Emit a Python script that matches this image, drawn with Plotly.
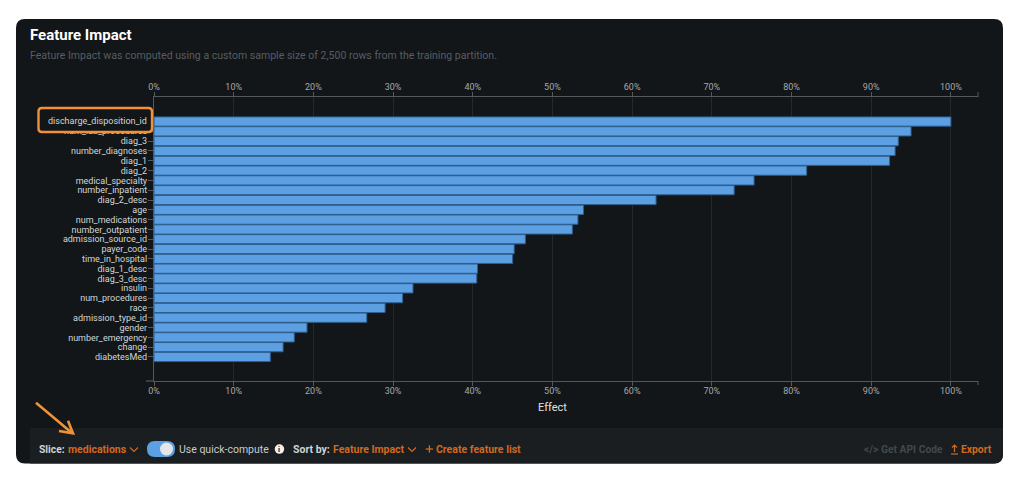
#!/usr/bin/env python3

import plotly.graph_objects as go

features = ['discharge_disposition_id', 'num_lab_procedures', 'diag_3', 'number_diagnoses', 'diag_1',
            'diag_2', 'medical_specialty', 'number_inpatient', 'diag_2_desc', 'age',
            'num_medications', 'number_outpatient', 'admission_source_id', 'payer_code', 'time_in_hospital',
            'diag_1_desc', 'diag_3_desc', 'insulin', 'num_procedures', 'race',
            'admission_type_id', 'gender', 'number_emergency', 'change', 'diabetesMed']
effect = [100, 95, 93.4, 93, 92.3,
          81.9, 75.3, 72.8, 63, 53.9,
          53.2, 52.5, 46.6, 45.2, 45,
          40.6, 40.5, 32.5, 31.2, 29,
          26.7, 19.2, 17.6, 16.2, 14.6]
x_ticks = [0, 10, 20, 30, 40, 50, 60, 70, 80, 90, 100]
x_labels = ['0%', '10%', '20%', '30%', '40%', '50%', '60%', '70%', '80%', '90%', '100%']

W = 1024
H = 483
ORANGE = '#d2691e'
ARROW = '#f0923a'
AXIS = '#55595c'
GRID = '#26292c'


# page pixels to paper
def px(x):
    return x / W


def py(y):
    return 1 - y / H


def to_path(points, close=False):
    s = ' '.join(('M' if i == 0 else 'L') + f'{px(a):.5f},{py(b):.5f}' for i, (a, b) in enumerate(points))
    return s + (' Z' if close else '')


def round_rect(x0, y0, x1, y1, r):
    return (f'M{px(x0 + r):.5f},{py(y0):.5f} L{px(x1 - r):.5f},{py(y0):.5f} '
            f'Q{px(x1):.5f},{py(y0):.5f} {px(x1):.5f},{py(y0 + r):.5f} '
            f'L{px(x1):.5f},{py(y1 - r):.5f} Q{px(x1):.5f},{py(y1):.5f} {px(x1 - r):.5f},{py(y1):.5f} '
            f'L{px(x0 + r):.5f},{py(y1):.5f} Q{px(x0):.5f},{py(y1):.5f} {px(x0):.5f},{py(y1 - r):.5f} '
            f'L{px(x0):.5f},{py(y0 + r):.5f} Q{px(x0):.5f},{py(y0):.5f} {px(x0 + r):.5f},{py(y0):.5f} Z')


shapes = []


def add_path(path, fill=None, line=None, width=1, layer='below'):
    shapes.append(dict(type='path', xref='paper', yref='paper', path=path, layer=layer,
                       fillcolor=fill if fill else 'rgba(0,0,0,0)',
                       line=dict(color=line if line else 'rgba(0,0,0,0)', width=width if line else 0)))


def chevron(x, y):
    add_path(to_path([(x - 4, y - 2), (x, y + 2), (x + 4, y - 2)]), line=ORANGE, width=1.2, layer='above')


annotations = []


def label(x, y, text, size=10.5, color='#c8cacb', anchor='left', bold=False, font='Roboto'):
    annotations.append(dict(xref='paper', yref='paper', x=px(x), y=py(y), text='<b>' + text + '</b>' if bold else text,
                            showarrow=False, xanchor=anchor, yanchor='middle',
                            font=dict(family=font, size=size, color=color), borderpad=0, borderwidth=0))


# panel and footer
add_path(round_rect(16, 19, 1003, 463.5, 9), fill='#121618')
add_path('M%.5f,%.5f L%.5f,%.5f L%.5f,%.5f Q%.5f,%.5f %.5f,%.5f L%.5f,%.5f Z' % (
    px(30), py(428), px(1003), py(428), px(1003), py(454.5), px(1003), py(463.5), px(994), py(463.5), px(30), py(463.5)),
    fill='#1a1e21')

# end caps of the axis lines and the tick left of the bottom corner
add_path(to_path([(978, 92), (978, 97)]), line=AXIS)
add_path(to_path([(978, 381), (978, 385)]), line=AXIS)
add_path(to_path([(146, 381), (154, 381)]), line=AXIS, width=1.2)

# highlight box around the top feature
add_path(round_rect(38.5, 108, 152, 132, 3.5), fill='#121618', line=ARROW, width=2.4, layer='above')
label(147, 121.5, features[0], size=9, color='#d4d6d7', anchor='right')

# orange arrow
add_path(to_path([(36, 402.7), (72, 433)]), line=ARROW, width=2.6, layer='above')
add_path(to_path([(59, 431), (73, 433.3), (68, 420.7)]), line=ARROW, width=2.6, layer='above')

# titles
label(30, 35, 'Feature Impact', size=15, color='#ffffff', bold=True)
label(30, 55, 'Feature Impact was computed using a custom sample size of 2,500 rows from the training partition.',
      size=10.55, color='#575d61')
label(552, 407, 'Effect', size=11, color='#e0e1e2', anchor='center')

# footer controls
label(39, 449, 'Slice:', size=10.3, color='#d0d2d3', bold=True)
label(68, 449, 'medications', size=10.5, color=ORANGE, bold=True)
chevron(134, 449.5)
add_path(round_rect(147, 441, 175, 457, 8), fill='#5c9fe3', layer='above')
shapes.append(dict(type='circle', xref='paper', yref='paper', x0=px(160), x1=px(173), y0=py(455.5), y1=py(442.5),
                   fillcolor='#e4e6e8', line=dict(width=0), layer='above'))
label(179, 449, 'Use quick-compute', size=10.5, color='#c8cacb')
shapes.append(dict(type='circle', xref='paper', yref='paper', x0=px(274.7), x1=px(284.2), y0=py(453.8), y1=py(444.3),
                   fillcolor='#f0f0f0', line=dict(width=0), layer='above'))
label(279.4, 449.1, 'i', size=7.5, color='#121618', anchor='center', bold=True)
label(293, 449, 'Sort by:', size=10.5, color='#d0d2d3', bold=True)
label(333, 449, 'Feature Impact', size=10.5, color=ORANGE, bold=True)
chevron(412, 449.5)
add_path(to_path([(425.7, 449), (433, 449)]), line=ORANGE, width=1.3, layer='above')
add_path(to_path([(429.4, 445.3), (429.4, 452.7)]), line=ORANGE, width=1.3, layer='above')
label(436, 449, 'Create feature list', size=10.5, color=ORANGE, bold=True)
label(864, 449, '&lt;/&gt; Get API Code', size=10.3, color='#43484b', bold=True)
label(961, 449, 'Export', size=10.3, color=ORANGE, bold=True)
add_path(to_path([(951, 454), (958, 454)]), line=ORANGE, width=1.2, layer='above')
add_path(to_path([(954.5, 452), (954.5, 445)]), line=ORANGE, width=1.2, layer='above')
add_path(to_path([(952, 447.5), (954.5, 445), (957, 447.5)]), line=ORANGE, width=1.2, layer='above')

fig = go.Figure()
fig.add_trace(go.Bar(x=effect, y=features, orientation='h', xaxis='x', yaxis='y', showlegend=False,
                     marker=dict(color='#5c9fe3', line=dict(color='#2f5f8f', width=1)), hoverinfo='x+y'))
# second copy only so the top axis gets drawn
fig.add_trace(go.Bar(x=effect, y=features, orientation='h', xaxis='x2', yaxis='y', showlegend=False,
                     opacity=0, hoverinfo='skip'))

x_range = [0, 103.4]
axis_style = dict(range=x_range, tickmode='array', tickvals=x_ticks, ticktext=x_labels, showgrid=True,
                  gridcolor=GRID, gridwidth=1, zeroline=False, showline=True, linecolor=AXIS, linewidth=1.2,
                  ticks='outside', ticklen=4, tickcolor=AXIS, tickfont=dict(family='Roboto', size=9, color='#a6a9ab'),
                  domain=[px(154), px(978)])

fig.update_layout(
    width=W, height=H,
    margin=dict(l=0, r=0, t=0, b=0, autoexpand=False),
    paper_bgcolor='#ffffff',
    plot_bgcolor='rgba(0,0,0,0)',
    barmode='overlay',
    bargap=0.06,
    shapes=shapes,
    annotations=annotations,
    xaxis=dict(side='bottom', anchor='y', ticklabelstandoff=-3, **axis_style),
    xaxis2=dict(side='top', anchor='y', overlaying='x', ticklabelstandoff=-2, **axis_style),
    yaxis=dict(domain=[py(381), py(97)], range=[26.45, -2.5], tickmode='array',
               tickvals=list(range(1, len(features))), ticktext=features[1:],
               showgrid=False, zeroline=False, showline=True, linecolor=AXIS, linewidth=1.2,
               ticks='outside', ticklen=5, tickcolor=AXIS, ticklabelstandoff=-1,
               tickfont=dict(family='Roboto', size=9, color='#d4d6d7')),
)

# browser default body margin would shift the whole picture
fig.write_html('out.html', config=dict(displayModeBar=False), post_script="document.body.style.margin='0';")
